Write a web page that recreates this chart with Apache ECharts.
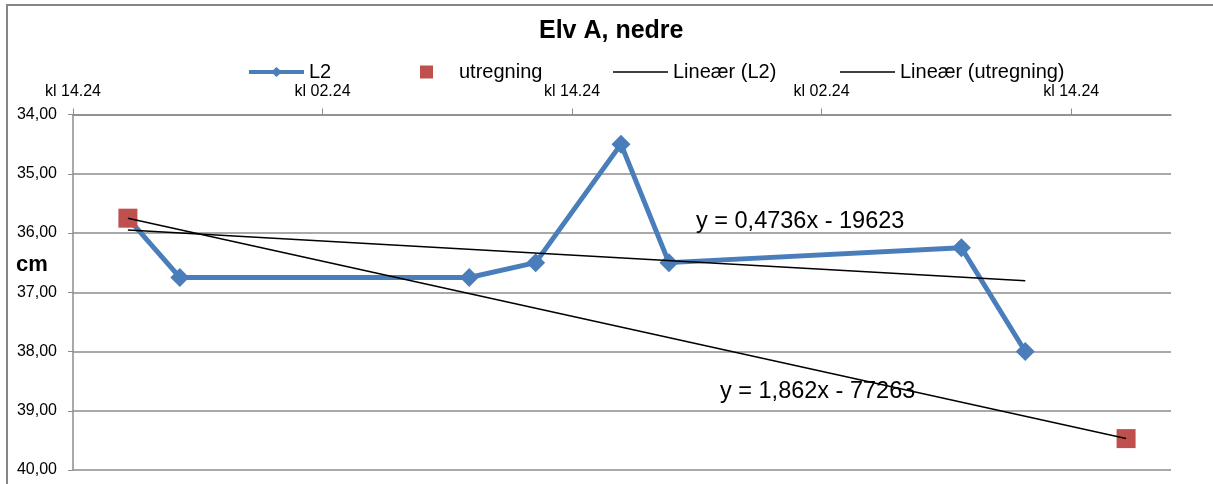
<!DOCTYPE html>
<html>
<head>
<meta charset="utf-8">
<script src="https://cdn.jsdelivr.net/npm/echarts@6/dist/echarts.min.js"></script>
<style>
  html, body { margin: 0; padding: 0; background: #ffffff; }
  #chart { width: 1213px; height: 484px; }
</style>
</head>
<body>
<div id="chart"></div>
<script>
// Time axis in days counted from the first "kl 14.24" tick
const tickLabels = ['kl 14.24', 'kl 02.24', 'kl 14.24', 'kl 02.24', 'kl 14.24'];

// Water level readings (cm below reference)
const l2Days = [0.110, 0.214, 0.794, 0.927, 1.098, 1.194, 1.780, 1.908];
const l2Cm   = [35.75, 36.75, 36.75, 36.50, 34.50, 36.50, 36.25, 38.00];

// Calculated values
const utregningDays = [0.110, 2.110];
const utregningCm   = [35.75, 39.47];

// Trendline equations as shown on the chart
const trendTexts = ['y = 0,4736x - 19623', 'y = 1,862x - 77263'];

const FONT = '"Liberation Sans", Arial, sans-serif';
const BLUE = '#4a7ebb';
const RED = '#c0504d';
const GRID = '#8c8c8c';

// Legend keys: thick line with diamond, square, thin line
const ICON_L2 = 'path://M0,5H55V9H0Z M27.5,2L33,7L27.5,12L22,7Z';
const ICON_SQUARE = 'path://M0,0H13V13H0Z';
const ICON_LINE = 'path://M0,0H55V1.5H0Z';

function zip(xs, ys) { return xs.map((x, i) => [x, ys[i]]); }

// Least-squares line across the x-range of a series
function linearTrend(xs, ys) {
  const n = xs.length;
  const mx = xs.reduce((a, b) => a + b, 0) / n;
  const my = ys.reduce((a, b) => a + b, 0) / n;
  let sxy = 0, sxx = 0;
  for (let i = 0; i < n; i++) {
    sxy += (xs[i] - mx) * (ys[i] - my);
    sxx += (xs[i] - mx) * (xs[i] - mx);
  }
  const k = sxy / sxx;
  const x0 = Math.min(...xs), x1 = Math.max(...xs);
  return [[x0, my + k * (x0 - mx)], [x1, my + k * (x1 - mx)]];
}

// One legend block per entry so each key sits at its own slot
function legendEntry(name, icon, color, left) {
  return {
    left: left,
    top: 57,
    itemWidth: 55,
    itemHeight: 13,
    symbolKeepAspect: true,
    textStyle: { fontFamily: FONT, fontSize: 20, color: '#000000' },
    data: [{ name: name, icon: icon, itemStyle: { color: color } }]
  };
}

const chart = echarts.init(document.getElementById('chart'), null, { renderer: 'canvas' });

chart.setOption({
  animation: false,
  backgroundColor: '#ffffff',
  textStyle: { fontFamily: FONT },
  title: {
    text: 'Elv A, nedre',
    left: 534,
    top: 14,
    textStyle: { fontFamily: FONT, fontSize: 25, fontWeight: 'bold', color: '#000000' }
  },
  legend: [
    legendEntry('L2', ICON_L2, BLUE, 244),
    legendEntry('utregning', ICON_SQUARE, RED, 415),
    legendEntry('Lineær (L2)', ICON_LINE, '#000000', 608),
    legendEntry('Lineær (utregning)', ICON_LINE, '#000000', 835)
  ],
  grid: { left: 73, top: 114.5, right: 42, bottom: 14, containLabel: false },
  xAxis: {
    type: 'value',
    position: 'top',
    min: 0,
    max: 2.2,
    interval: 0.5,
    axisLine: { show: true, lineStyle: { color: GRID, width: 1.5 } },
    axisTick: { show: true, inside: false, length: 6, lineStyle: { color: GRID } },
    splitLine: { show: false },
    axisLabel: {
      margin: 15,
      fontFamily: FONT,
      fontSize: 16,
      color: '#000000',
      showMaxLabel: false,
      formatter: function (v) {
        const i = Math.round(v / 0.5);
        return Math.abs(v - i * 0.5) < 1e-6 && tickLabels[i] ? tickLabels[i] : '';
      }
    }
  },
  yAxis: {
    type: 'value',
    inverse: true,
    min: 34,
    max: 40,
    interval: 1,
    axisLine: { show: true, lineStyle: { color: GRID, width: 1.5 } },
    axisTick: { show: true, inside: false, length: 5, lineStyle: { color: GRID } },
    splitLine: { show: true, lineStyle: { color: GRID, width: 1.5 } },
    axisLabel: {
      margin: 16,
      fontFamily: FONT,
      fontSize: 16,
      color: '#000000',
      formatter: function (v) { return v.toFixed(2).replace('.', ','); }
    }
  },
  graphic: [
    {
      type: 'rect',
      silent: true,
      shape: { x: 7, y: 5, width: 1230, height: 500 },
      style: { fill: 'none', stroke: '#868686', lineWidth: 2 },
      z: 100
    },
    {
      type: 'text',
      left: 16,
      top: 254,
      style: { text: 'cm', fontFamily: FONT, fontSize: 22, fontWeight: 'bold', fill: '#000000' }
    },
    {
      type: 'text',
      left: 696,
      top: 210,
      style: { text: trendTexts[0], fontFamily: FONT, fontSize: 23.5, fill: '#000000' },
      z: 50
    },
    {
      type: 'text',
      left: 720,
      top: 380,
      style: { text: trendTexts[1], fontFamily: FONT, fontSize: 23.5, fill: '#000000' },
      z: 50
    }
  ],
  series: [
    {
      name: 'L2',
      type: 'line',
      data: zip(l2Days, l2Cm),
      symbol: 'diamond',
      symbolSize: 19,
      lineStyle: { color: BLUE, width: 5 },
      itemStyle: { color: BLUE },
      z: 2
    },
    {
      name: 'utregning',
      type: 'scatter',
      data: zip(utregningDays, utregningCm),
      symbol: 'rect',
      symbolSize: 19,
      itemStyle: { color: RED, opacity: 1 },
      z: 3
    },
    {
      name: 'Lineær (L2)',
      type: 'line',
      data: linearTrend(l2Days, l2Cm),
      symbol: 'none',
      lineStyle: { color: '#000000', width: 1.5 },
      itemStyle: { color: '#000000' },
      z: 4
    },
    {
      name: 'Lineær (utregning)',
      type: 'line',
      data: linearTrend(utregningDays, utregningCm),
      symbol: 'none',
      lineStyle: { color: '#000000', width: 1.5 },
      itemStyle: { color: '#000000' },
      z: 4
    }
  ]
});
</script>
</body>
</html>
